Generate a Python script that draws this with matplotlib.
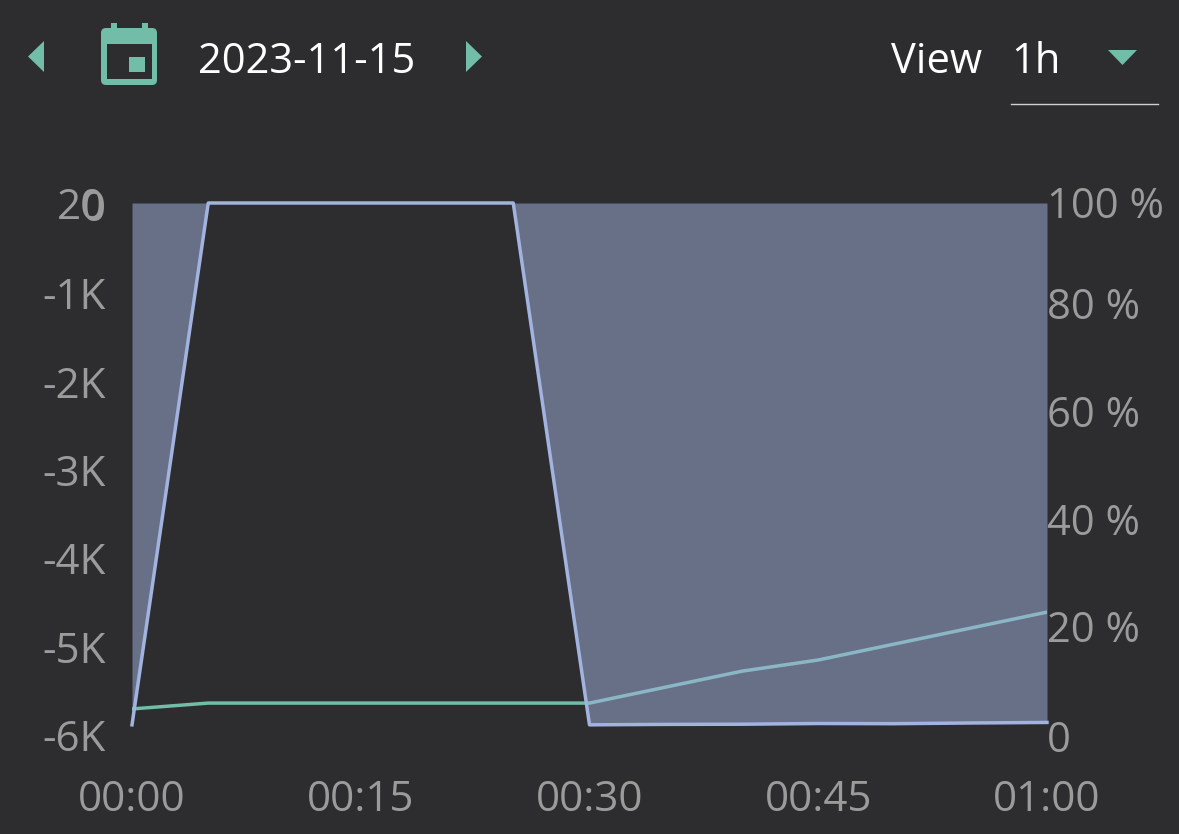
import matplotlib
matplotlib.use('Agg')
import matplotlib.pyplot as plt
from matplotlib.patches import Polygon, Rectangle, FancyBboxPatch
from matplotlib.transforms import ScaledTranslation

# Werte
minutes = [0, 5, 10, 15, 20, 25, 30, 35, 40, 45, 50, 55, 60]
power = [-5885, 20, 20, 20, 20, 20, -5885, -5880, -5878, -5870, -5872, -5864, -5858]
soc = [4.9, 6.0, 6.0, 6.0, 6.0, 6.0, 6.0, 9.0, 12.0, 14.1, 17.1, 20.1, 23.1]

power_ticks = [20, 0, -1000, -2000, -3000, -4000, -5000, -6000]
power_labels = ['20', '0', '-1K', '-2K', '-3K', '-4K', '-5K', '-6K']
soc_ticks = [0, 20, 40, 60, 80, 100]
soc_labels = ['0', '20 %', '40 %', '60 %', '80 %', '100 %']
time_ticks = [0, 15, 30, 45, 60]
time_labels = ['00:00', '00:15', '00:30', '00:45', '01:00']

BG = '#2d2d2f'
GREEN = '#72bda7'
BLUE = '#a3b3e0'
GREY = '#9b9b9b'
W, H = 1179, 834

plt.rcParams['font.family'] = ['Open Sans', 'DejaVu Sans']

fig = plt.figure(figsize=(W / 100, H / 100), dpi=100, facecolor=BG)

# Chart-Bereich in Pixeln
left, right, top, bottom = 132, 1047, 203, 735
ax = fig.add_axes([left / W, 1 - bottom / H, (right - left) / W, (bottom - top) / H])
ax.set_xlim(0, 60)
ax.set_ylim(-6000, 20)
ax2 = ax.twinx()
ax2.set_ylim(0, 100)

# SoC liegt unter der halbtransparenten Flaeche
ax2.set_zorder(1)
ax2.patch.set_visible(True)
ax2.set_facecolor(BG)
ax.set_zorder(2)
ax.patch.set_visible(False)

ax2.plot(minutes, soc, color=GREEN, linewidth=2.5)
ax.fill_between(minutes, power, 20, color=BLUE, alpha=0.5, linewidth=0)
ax.plot(minutes, power, color=BLUE, linewidth=2.5, clip_on=False)

for a in (ax, ax2):
    for s in a.spines.values():
        s.set_visible(False)
    a.tick_params(length=0, labelsize=30.3, labelcolor=GREY)

ax.set_xticks(time_ticks, time_labels)
ax.tick_params(axis='x', pad=32)
ax.set_yticks(power_ticks, power_labels)
ax.tick_params(axis='y', pad=19)
ax2.set_yticks(soc_ticks, soc_labels)
ax2.tick_params(axis='y', pad=0, labelsize=30)

# Labels rechts sitzen im Original nicht ganz gleichmaessig
for label, dy in zip(ax2.get_yticklabels(), [-1, 3, 3, 5, 6, 1]):
    label.set_transform(label.get_transform() + ScaledTranslation(0, dy / 100, fig.dpi_scale_trans))

# Kopfzeile
ui = fig.add_axes([0, 0, 1, 1], zorder=5)
ui.set_xlim(0, W)
ui.set_ylim(H, 0)
ui.axis('off')
ui.patch.set_visible(False)

ui.add_patch(Polygon([[44, 41], [44, 72], [28, 56.5]], color=GREEN, lw=0))
ui.add_patch(Polygon([[466, 41], [466, 72], [482, 56.5]], color=GREEN, lw=0))
ui.add_patch(Polygon([[1108, 50], [1137, 50], [1122.5, 65]], color=GREEN, lw=0))

# Kalender-Symbol
ui.add_patch(FancyBboxPatch((101, 28), 56, 57, boxstyle='round,pad=0,rounding_size=5', color=GREEN, lw=0))
ui.add_patch(Rectangle((111, 23), 6, 6, color=GREEN, lw=0))
ui.add_patch(Rectangle((142, 23), 6, 6, color=GREEN, lw=0))
ui.add_patch(Rectangle((107, 44), 45, 35, color=BG, lw=0))
ui.add_patch(Rectangle((129, 57), 16, 15, color=GREEN, lw=0))

ui.text(198, 62, '2023-11-15', color='white', fontsize=30, va='center', ha='left')
ui.text(891, 62, 'View', color='white', fontsize=30, va='center', ha='left')
ui.text(1011, 62, '1h', color='white', fontsize=30, va='center', ha='left')
ui.plot([1011, 1158], [104, 104], color='#d0d0d0', linewidth=1.0)

fig.savefig('out.png', dpi=100, facecolor=BG)
